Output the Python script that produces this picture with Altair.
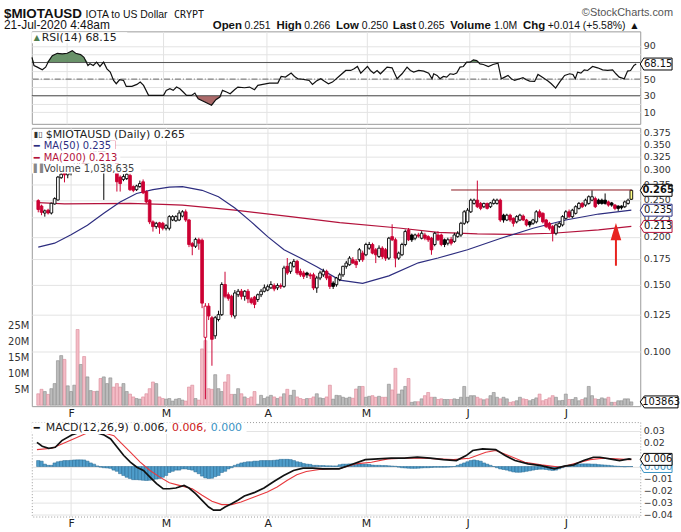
import altair as alt
import pandas as pd
import numpy as np

# ---------------- data ----------------
base_ms = 1579651200000          # 22-Jan-2020 00:00 UTC (first bar)
day_ms = 86400000
month_start_days = [10, 39, 70, 100, 131, 161]   # Feb1 .. Jul1

open_ = [.249,.241,.231,.235,.231,.244,.250,.286,.296,.291,
         .297,.300,.309,.305,.315,.311,.322,.331,.326,.342,
         .335,.345,.358,.366,.327,.287,.283,.2845,.290,.271,
         .266,.271,.279,.263,.2497,.219,.2128,.2177,.2171,.2107,
         .2107,.2215,.2205,.2215,.2268,.2327,.2215,.192,.189,.1965,
         .196,.109,.1316,.1227,.110,.1214,.125,.150,.141,.1397,
         .124,.141,.144,.1397,.144,.1375,.139,.137,.141,.144,
         .145,.147,.149,.147,.149,.1483,.1674,.1624,.1674,.1725,
         .1624,.1608,.1608,.159,.159,.1469,.156,.159,.1624,.1576,
         .1513,.1498,.1545,.159,.1674,.169,.1742,.1725,.1742,.1813,
         .1795,.1868,.191,.185,.1777,.1868,.185,.1759,.2003,.1965,
         .1759,.1795,.191,.2085,.2023,.1984,.2023,.1984,.2023,.2003,
         .1984,.191,.2023,.2023,.1965,.1925,.197,.1946,.2003,.2023,
         .2171,.219,.2327,.2448,.2497,.2448,.240,.2448,.240,.2448,
         .2448,.2497,.228,.2215,.228,.2237,.219,.2215,.2268,.2215,
         .219,.2171,.219,.2327,.2306,.2215,.2171,.2128,.2044,.2128,
         .215,.2237,.2327,.226,.2306,.2376,.2448,.2424,.2448,.2497,
         .252,.2497,.2497,.2497,.247,.2455,.2424,.2409,.2409,.240,
         .2448,.251]
high = [.251,.243,.236,.237,.246,.254,.289,.295,.300,.300,
        .305,.312,.315,.318,.322,.325,.335,.340,.345,.350,
        .352,.362,.372,.368,.330,.290,.292,.294,.293,.273,
        .274,.281,.283,.265,.251,.221,.219,.219,.219,.216,
        .228,.228,.228,.235,.235,.236,.223,.194,.199,.199,
        .198,.134,.134,.124,.124,.128,.152,.162,.143,.141,
        .145,.146,.146,.145,.146,.139,.140,.142,.146,.150,
        .150,.153,.151,.151,.151,.168,.176,.172,.175,.174,
        .165,.163,.162,.161,.161,.158,.163,.165,.164,.159,
        .153,.157,.161,.168,.173,.178,.177,.175,.187,.184,
        .193,.194,.193,.187,.190,.189,.187,.200,.2158,.199,
        .183,.193,.209,.211,.204,.204,.205,.207,.205,.202,
        .200,.206,.207,.204,.198,.199,.200,.205,.207,.219,
        .235,.238,.252,.252,.281,.247,.246,.246,.247,.252,
        .252,.252,.230,.230,.230,.225,.228,.230,.229,.223,
        .220,.223,.235,.236,.232,.223,.219,.215,.217,.219,
        .228,.235,.236,.237,.242,.247,.247,.252,.257,.265,
        .255,.252,.252,.260,.249,.247,.244,.242,.242,.249,
        .252,.266]
low = [.232,.228,.226,.229,.229,.243,.249,.284,.278,.285,
       .290,.296,.300,.302,.306,.308,.318,.322,.324,.330,
       .250,.340,.352,.337,.263,.263,.280,.282,.264,.262,
       .264,.269,.259,.245,.216,.2065,.210,.2037,.208,.208,
       .208,.220,.219,.220,.225,.219,.188,.179,.187,.185,
       .130,.075,.121,.0918,.108,.120,.124,.138,.136,.123,
       .122,.139,.137,.136,.134,.133,.130,.135,.139,.143,
       .144,.146,.144,.145,.146,.147,.159,.160,.166,.159,
       .157,.155,.156,.155,.145,.1426,.154,.157,.154,.146,
       .146,.148,.153,.157,.165,.168,.170,.1657,.172,.172,
       .178,.185,.180,.1707,.176,.175,.173,.174,.195,.1664,
       .174,.178,.189,.195,.194,.196,.199,.197,.196,.194,
       .1795,.189,.195,.189,.188,.190,.190,.193,.199,.200,
       .215,.217,.231,.243,.238,.235,.238,.236,.238,.243,
       .243,.219,.218,.220,.219,.2128,.217,.220,.220,.213,
       .212,.215,.217,.224,.217,.211,.208,.1946,.202,.211,
       .213,.222,.224,.224,.229,.236,.238,.240,.243,.248,
       .238,.243,.243,.243,.240,.240,.235,.234,.236,.238,
       .243,.250]
close = [.236,.232,.234,.231,.245,.252,.287,.292,.291,.297,
         .300,.309,.305,.315,.311,.322,.331,.326,.342,.335,
         .345,.358,.366,.340,.279,.276,.288,.292,.266,.265,
         .272,.276,.261,.247,.219,.2128,.2171,.212,.2107,.214,
         .226,.226,.226,.231,.2327,.2215,.191,.189,.197,.1925,
         .134,.1316,.124,.1077,.1227,.125,.150,.1397,.138,.125,
         .1425,.144,.1397,.144,.1375,.1345,.133,.141,.144,.147,
         .148,.150,.146,.149,.148,.1657,.1608,.1707,.1725,.1608,
         .159,.1576,.159,.158,.1469,.156,.1608,.1624,.156,.1483,
         .1483,.156,.159,.1674,.1707,.1759,.1707,.169,.185,.1742,
         .191,.191,.1813,.1795,.1868,.1777,.1759,.1984,.1965,.1759,
         .1813,.191,.2065,.1965,.1965,.2023,.201,.2044,.1984,.1965,
         .185,.2044,.1965,.191,.191,.1965,.1925,.2023,.2044,.2171,
         .2327,.235,.2497,.2497,.240,.2376,.2448,.2376,.2455,.2497,
         .2497,.2215,.2215,.228,.2215,.2171,.226,.228,.2215,.215,
         .215,.2215,.2327,.226,.219,.2128,.2107,.2044,.215,.2171,
         .226,.2327,.226,.235,.240,.2448,.240,.2497,.2549,.2549,
         .240,.2448,.2448,.2448,.2424,.2424,.2376,.2376,.2385,.247,
         .2497,.265]
volume_m = [3.6,5.0,4.3,3.4,5.2,6.8,14.0,15.6,14.4,6.1,
            4.3,6.3,23.8,12.8,15.3,8.9,4.6,4.3,4.4,8.4,
            8.9,6.8,8.6,5.7,6.8,5.7,6.8,4.3,3.5,2.6,
            2.1,1.9,2.6,3.6,5.2,7.3,6.8,2.6,2.1,1.9,
            2.1,1.3,1.9,2.1,1.6,1.3,5.7,6.3,2.1,1.6,
            17.7,20.3,5.2,5.0,9.6,5.2,4.3,7.3,9.6,3.4,
            3.4,5.2,3.6,2.6,2.1,2.6,4.3,0.3,3.1,2.1,
            2.6,3.1,2.6,2.1,2.6,3.6,5.0,3.1,4.7,2.6,
            2.1,1.8,2.1,2.1,2.6,3.6,2.3,2.1,2.6,6.3,
            1.9,3.1,3.0,2.5,2.2,2.5,2.2,5.1,5.9,5.9,
            2.5,2.8,3.0,2.5,2.8,2.5,2.5,6.6,4.8,11.6,
            3.5,4.8,5.9,8.4,0.9,1.1,1.1,2.0,3.0,4.0,
            2.5,2.5,1.8,2.0,1.8,1.8,1.8,2.0,1.8,2.5,
            5.9,2.5,3.0,3.0,2.5,2.0,1.7,2.0,3.0,4.0,
            2.5,2.0,2.5,2.0,0.9,1.1,1.4,2.5,2.0,1.8,
            1.4,1.8,2.3,3.5,1.4,1.8,2.3,3.0,2.5,1.4,
            1.5,3.5,1.8,1.8,2.4,1.4,1.8,2.3,5.9,3.0,
            2.0,1.8,2.3,2.0,2.5,0.9,0.9,1.4,1.4,2.0,
            2.0,1.04]

ma50_day = [0,5,10,15,20,25,30,35,40,44,50,55,60,65,70,75,80,85,92,99,107,116,122,131,141,151,161,171,181]
ma50_val = [.188,.1925,.2025,.2146,.2306,.247,.260,.266,.270,.271,.265,.255,.238,.219,.2003,.185,.176,.167,
            .154,.151,.158,.171,.176,.185,.198,.2107,.2215,.2296,.235]
ma200_day = [0,8,28,38,44,60,77,92,110,122,134,145,157,171,181]
ma200_val = [.246,.244,.2448,.2435,.2424,.235,.226,.218,.211,.2056,.2036,.203,.2044,.2086,.213]

rsi_day = [-0.4,0.2,1.2,2.7,3.7,4.7,5.7,7.2,8.7,10.2,
           11.7,12.7,14.2,15.2,16.4,17.0,18.0,19.0,20.0,21.1,
           22.1,23.1,24.1,24.9,25.9,27.1,27.9,29.6,31.1,32.1,
           33.1,34.6,37.1,39.1,39.9,41.0,42.0,43.0,44.0,45.0,
           46.0,47.5,48.5,49.5,51.5,53.5,54.8,56.0,56.8,58.0,
           59.1,60.4,61.4,63.4,64.9,66.4,67.4,68.9,70.9,73.4,
           74.4,75.7,77.4,78.4,79.4,81.1,82.8,83.8,85.0,86.3,
           87.3,88.6,89.8,91.3,93.8,95.3,96.3,97.3,98.3,99.3,
           100.3,101.2,102.2,103.2,104.2,105.2,106.2,107.7,109.2,110.7,
           112.2,113.2,114.2,115.7,117.2,118.7,119.7,120.2,121.2,122.1,
           123.1,124.1,125.1,126.1,127.1,128.1,129.1,130.1,131.1,132.1,
           133.1,134.1,135.1,136.6,138.0,139.5,140.5,141.5,142.5,143.5,
           144.5,146.0,147.0,148.0,149.0,150.5,151.5,152.5,153.5,154.5,
           155.5,156.8,158.0,159.5,161.0,162.0,162.7,163.4,164.4,165.4,
           166.4,167.9,169.4,170.9,172.4,173.9,174.9,175.9,177.4,178.4,
           179.3,180.3,181.0]
rsi_val = [76.3,66.4,64.4,61.2,64.4,72.3,78.3,81.1,80.3,81.1,
           84.3,81.1,79.5,76.3,66.4,68.4,66.4,70.4,65.2,70.4,
           62.4,58.4,48.4,44.4,49.2,48.4,41.2,41.2,43.6,46.4,
           42.4,30.4,30.4,30.4,36.4,38.4,36.4,40.4,38.4,34.4,
           30.4,30.4,33.2,26.4,22.4,18.5,25.2,28.4,36.4,34.4,
           32.4,37.2,40.4,39.6,40.4,37.2,42.4,43.6,45.2,45.2,
           53.2,52.4,57.2,53.2,50.4,49.6,48.4,43.6,47.6,50.4,
           47.6,44.4,46.4,51.6,60.4,60.4,62.4,65.2,57.2,61.2,
           65.2,60.4,57.2,60.4,56.4,60.4,64.4,63.6,50.4,56.4,
           64.4,60.4,58.4,60.4,59.6,57.2,50.4,56.4,54.4,50.4,
           53.2,52.4,56.4,55.6,57.2,64.4,65.2,70.4,70.4,73.2,
           72.3,68.4,67.6,65.2,67.6,69.2,50.4,52.4,54.4,50.4,
           48.4,50.4,51.6,49.2,47.6,47.2,55.6,53.2,50.4,47.6,
           44.4,39.2,46.4,54.4,56.4,55.6,50.4,58.4,57.2,61.2,
           60.4,65.2,63.6,61.2,60.4,61.2,56.4,52.4,50.4,59.6,
           60.4,66.4,68.15]

macd_day = [-0.4,1.2,3.2,5.2,7.2,10.2,13.2,16.2,20.1,22.1,
            24.1,26.1,28.1,30.1,32.1,34.1,36.1,38.1,40.0,42.0,
            44.5,46.0,48.0,50.0,52.0,53.5,55.5,57.0,59.0,60.9,
            62.9,65.9,68.9,71.9,74.9,77.9,80.8,83.8,86.8,89.8,
            91.8,94.8,99.8,103.7,107.7,111.7,115.7,119.7,123.6,127.6,
            130.6,132.6,135.6,139.6,142.5,145.5,149.5,153.5,157.5,160.5,
            163.4,166.4,169.4,171.4,174.4,177.4,180.3,181.0]
macd_val = [.0203,.0170,.0153,.0161,.0217,.0264,.0292,.0297,.0264,.0231,
            .0161,.0092,.0037,-.0006,-.0033,-.0089,-.0144,-.0186,-.0186,-.0180,
            -.0158,-.0180,-.0228,-.0283,-.0339,-.0366,-.0366,-.0339,-.0311,-.0283,
            -.0247,-.0219,-.0180,-.0125,-.0075,-.0033,-.0014,-.0014,-.0019,-.0019,
            -.0019,.0008,.0058,.0064,.0070,.0070,.0078,.0070,.0058,.0050,
            .0092,.0134,.0148,.0142,.0092,.0050,.0022,.0008,-.0019,.0003,
            .0014,.0050,.0078,.0078,.0064,.0050,.0064,.0060]
sig_day = [-0.4,4.2,7.2,10.2,14.2,16.2,20.1,23.1,25.1,28.1,
           31.1,34.1,37.1,40.0,43.0,47.0,50.0,53.0,56.0,59.0,
           61.9,65.9,69.9,72.9,75.9,78.9,81.8,85.8,89.8,91.8,
           96.8,101.7,106.7,111.7,116.7,121.7,126.7,131.6,136.6,139.6,
           143.5,148.5,153.5,159.5,163.4,168.4,172.4,176.4,180.3,181.0]
sig_val = [.0142,.0153,.0189,.0225,.0273,.0292,.0281,.0259,.0203,.0120,
           .0037,-.0033,-.0089,-.0136,-.0158,-.0186,-.0241,-.0291,-.0319,-.0319,
           -.0297,-.0255,-.0214,-.0172,-.0117,-.0069,-.0042,-.0025,-.0019,-.0019,
           .0022,.0036,.0064,.0070,.0072,.0064,.0058,.0070,.0120,.0134,
           .0092,.0036,.0014,-.0006,.0022,.0058,.0070,.0064,.0058,.0060]
hist_val = [.005,.0045,
            .002,.001,.001,
            .003,.004,
            .0045,.005,.005,.0052,.0055,.0056,.0056,.0055,
            .0045,.003,.002,
            .0005,-.0005,-.001,-.0012,-.0015,
            -.003,-.004,
            -.006,-.0075,-.009,
            -.010,-.011,-.011,-.0112,
            -.0115,-.0117,-.0115,-.011,
            -.0105,-.010,-.009,-.0075,
            -.005,-.004,-.003,-.003,
            -.002,-.002,
            -.0025,-.003,
            -.0045,-.006,
            -.008,-.0095,-.010,-.0098,
            -.0085,-.0075,
            -.005,-.004,
            -.002,-.001,
            .001,.002,
            .003,.0035,.004,.004,
            .0045,.0045,.005,.005,.005,.005,.0052,
            .0055,.006,.006,.006,.0058,
            .005,.004,.0035,
            .0025,.002,.0018,
            .001,.001,.0008,.0008,.0006,.0006,.0005,.0005,
            .0015,.002,.002,.0022,.0022,.0022,.0022,.002,.002,.0018,
            .0012,.001,.001,.0008,.0008,.0006,.0004,.0002,
            -.0005,-.001,-.0012,-.0014,-.0015,-.0015,-.0014,-.0012,-.001,-.001,
            -.0008,-.0006,-.0006,-.0006,-.0006,-.0005,-.0003,0.0,
            .001,.002,.003,.004,
            .005,.0055,.005,.0045,
            .003,.002,.001,0.0,
            -.001,-.002,-.0025,-.003,
            -.0038,-.0045,-.0048,-.0048,-.0045,-.004,
            -.0035,-.003,-.0025,-.0022,-.0022,-.0025,-.003,
            -.0033,-.003,-.002,
            -.001,0.0,.0005,.001,.0015,.002,
            .0022,.0022,.0022,.002,.002,
            .0016,.0014,.0012,.001,
            .0007,.0004,.0002,0.0,-.0002,0.0,0.0]

resist_days = [126, 181]
resist_level = 0.2655
arrow_day = 176.3
arrow_tail, arrow_head = 0.168, 0.2065

price_ticks = [0.100, 0.125, 0.150, 0.175, 0.200, 0.225, 0.250, 0.275, 0.300, 0.325, 0.350, 0.375]
rsi_ticks = [10, 20, 30, 40, 50, 60, 70, 80, 90]
macd_ticks = [-0.04, -0.03, -0.02, -0.01, 0.0, 0.01, 0.02, 0.03]
vol_ticks = [5, 10, 15, 20, 25]

n = len(close)
assert len(open_) == n and len(high) == n and len(low) == n and len(volume_m) == n and len(hist_val) == n
assert len(rsi_day) == len(rsi_val) and len(macd_day) == len(macd_val) and len(sig_day) == len(sig_val)
assert len(ma50_day) == len(ma50_val) and len(ma200_day) == len(ma200_val)

def to_ms(days):
    return [base_ms + d * day_ms for d in days]

# ---------------- frames ----------------
df = pd.DataFrame({"t": to_ms(range(n)), "o": open_, "h": high, "l": low, "c": close,
                   "v": volume_m, "hist": hist_val})
prev = df["c"].shift(1).fillna(df["o"])
up = df["c"] >= prev
df["col"] = np.where(up, "#000000", "#cc0033")
df["fill"] = np.where(df["c"] > df["o"], "#ffffff", df["col"])
df.loc[n - 1, "fill"] = "#ffff88"
df["vfill"] = np.where(up, "#bcbcbc", "#f4bcc6")
df["vstroke"] = np.where(up, "#8a8a8a", "#d98898")

ma50_df = pd.DataFrame({"t": to_ms(ma50_day), "p": ma50_val})
ma200_df = pd.DataFrame({"t": to_ms(ma200_day), "p": ma200_val})
rsi_df = pd.DataFrame({"t": to_ms(rsi_day), "r": rsi_val})
rsi_df["r_hi"] = rsi_df["r"].clip(lower=70)
rsi_df["r_lo"] = rsi_df["r"].clip(upper=30)
macd_df = pd.DataFrame({"t": to_ms(macd_day), "m": macd_val})
sig_df = pd.DataFrame({"t": to_ms(sig_day), "m": sig_val})
res_df = pd.DataFrame({"t0": to_ms([resist_days[0]]), "t1": to_ms([resist_days[1]]), "p": [resist_level]})
arr_df = pd.DataFrame({"t": to_ms([arrow_day]), "p0": [arrow_tail], "p1": [0.199], "tip": [arrow_head]})
one = pd.DataFrame({"k": [0]})

# ---------------- layout constants ----------------
W = 612
H_RSI, H_PRICE, H_MACD = 93, 280, 95
FONT = "DejaVu Sans"
HFONT = "Liberation Sans"
GRID = "#e3e3e3"

xs = alt.Scale(type="utc", domain=[base_ms - 0.45 * day_ms, base_ms + 182.2 * day_ms])
month_ms = to_ms(month_start_days)

def x_enc(labels, field="t"):
    if labels:
        ax = alt.Axis(values=month_ms, labelExpr="substring(utcFormat(datum.value, '%b'), 0, 1)",
                      title=None, grid=True, gridColor=GRID, ticks=False, domain=False,
                      labelFont=FONT, labelFontSize=11, labelColor="#222", labelPadding=1,
                      labelFlush=False, labelOverlap=False, minExtent=12, maxExtent=12)
    else:
        ax = alt.Axis(values=month_ms, labels=False, title=None, grid=True, gridColor=GRID,
                      ticks=False, domain=False, minExtent=0, maxExtent=0)
    return alt.X(f"{field}:T", scale=xs, axis=ax)

def yaxis(values, fmt=None, expr=None):
    kw = dict(values=values, orient="right", title=None, grid=True, gridColor=GRID, ticks=False,
              domain=False, labelFont=FONT, labelFontSize=9.5, labelColor="#333", labelPadding=3,
              labelOverlap=False, minExtent=38, maxExtent=38)
    if fmt:
        kw["format"] = fmt
    if expr:
        kw["labelExpr"] = expr
    return alt.Axis(**kw)

ps = alt.Scale(type="log", domain=[0.0719, 0.3866], nice=False, zero=False)
pax = yaxis(price_ticks, fmt=".3f")
rs = alt.Scale(domain=[-3.9, 107.5], nice=False, zero=False)
rax = yaxis(rsi_ticks, expr="(datum.value == 10 || datum.value == 30 || datum.value == 50 || datum.value == 90) ? datum.label : ''")
mscale = alt.Scale(domain=[-0.0419, 0.03725], nice=False, zero=False)
max_ = yaxis(macd_ticks, fmt=".2f", expr="(abs(datum.value) < 0.005 || abs(datum.value - 0.01) < 0.005) ? '' : datum.label")
vscale = alt.Scale(domain=[-0.3, 87.2], nice=False, zero=False)
vax = alt.Axis(values=vol_ticks, orient="left", labelExpr="datum.value + 'M'", title=None, grid=False,
               ticks=False, domain=False, labelFont=FONT, labelFontSize=10, labelColor="#333",
               labelPadding=3)

def PY(f):
    return alt.Y(f"{f}:Q", scale=ps, axis=pax)

def txt(s, x, y, size=11, color="#222", bold=False, font=FONT, align="left", baseline="middle"):
    return alt.Chart(one).mark_text(text=s, align=align, baseline=baseline, font=font, fontSize=size,
                                    fontWeight="bold" if bold else "normal", color=color).encode(
        x=alt.value(x), y=alt.value(y))

def box(x, x2, y, y2):
    return alt.Chart(one).mark_rect(fill="white", stroke=None).encode(
        x=alt.value(x), x2=alt.value(x2), y=alt.value(y), y2=alt.value(y2))

def tag_shape(half_w, half_h):
    hh = half_h / half_w
    return f"M -1 0 L -0.78 {-hh:.3f} L 1 {-hh:.3f} L 1 {hh:.3f} L -0.78 {hh:.3f} Z"

def tag(value, label, yenc_fn, stroke="#000", tcolor="#111", bold=False, wid=32):
    d = pd.DataFrame({"v": [value]})
    pt = alt.Chart(d).mark_point(shape=tag_shape(wid / 2, 6), size=wid * wid, fill="white", fillOpacity=1,
                                 stroke=stroke, strokeWidth=1, opacity=1).encode(
        x=alt.value(W + wid / 2), y=yenc_fn("v"))
    tx = alt.Chart(d).mark_text(text=label, align="center", baseline="middle", font=FONT, fontSize=10,
                                fontWeight="bold" if bold else "normal", color=tcolor).encode(
        x=alt.value(W + wid / 2 + 2), y=yenc_fn("v"))
    return [pt, tx]

# ---------------- RSI panel ----------------
def RY(f):
    return alt.Y(f"{f}:Q", scale=rs, axis=rax)

lvl = pd.DataFrame({"r": [70, 30]})
rsi_layers = [
    alt.Chart(rsi_df).mark_area(color="#4f7f4f", opacity=0.85).encode(x=x_enc(False), y=RY("r_hi"), y2=alt.datum(70)),
    alt.Chart(rsi_df).mark_area(color="#9c4f4f", opacity=0.85).encode(x=x_enc(False), y=RY("r_lo"), y2=alt.datum(30)),
    alt.Chart(lvl).mark_rule(color="#555", strokeWidth=1).encode(y=RY("r")),
    alt.Chart(pd.DataFrame({"r": [50]})).mark_rule(color="#666", strokeWidth=1, strokeDash=[6, 2, 1, 2]).encode(y=RY("r")),
    alt.Chart(rsi_df).mark_line(color="#111", strokeWidth=1.2).encode(x=x_enc(False), y=RY("r")),
    box(0, 96, 1, 12),
    txt("RSI(14) 68.15", 10, 6.5),
    txt("▲", 2, 6.5, size=8, color="#4f7f4f"),
]
rsi_layers += tag(68.15, "68.15", RY)
# header (placed above the RSI panel)
rsi_layers += [
    alt.Chart(one).mark_rule(strokeOpacity=0, strokeWidth=0).encode(
        x=alt.value(-31), x2=alt.value(-31), y=alt.value(-29), y2=alt.value(-29)),
    txt("$MIOTAUSD", -28, -13, size=13.5, bold=True, font=HFONT, baseline="alphabetic", color="#111"),
    txt("IOTA to US Dollar", 54, -13, size=10.5, font=HFONT, baseline="alphabetic", color="#111"),
    txt("CRYPT", 143, -13, size=10, font="DejaVu Sans Mono", baseline="alphabetic", color="#111"),
    txt("©StockCharts.com", 645, -15, size=11, font=HFONT, align="right", baseline="alphabetic", color="#555"),
    txt("21-Jul-2020 4:48am", -28, -2, size=12, font=HFONT, baseline="alphabetic", color="#111"),
]
hdr = [("Open", 213, True), ("0.251", 245, False), ("High", 277, True), ("0.266", 305, False),
       ("Low", 337, True), ("0.250", 363, False), ("Last", 394, True), ("0.265", 420, False),
       ("Volume", 452, True), ("1.0M", 496, False), ("Chg", 525, True), ("+0.014 (+5.58%)", 550, False),
       ("▲", 632, False)]
for s, x, b in hdr:
    rsi_layers.append(txt(s, x - 31, -2, size=11.5 if b else 10.5, bold=b, font=HFONT,
                          baseline="alphabetic", color="#111"))

rsi_chart = alt.layer(*rsi_layers).properties(width=W, height=H_RSI)

# ---------------- price panel ----------------
vol_layers = [
    alt.Chart(df).mark_bar(size=3, strokeWidth=0.6).encode(
        x=x_enc(True), y=alt.Y("v:Q", scale=vscale, axis=vax), y2=alt.datum(0),
        fill=alt.Fill("vfill:N", scale=None), stroke=alt.Stroke("vstroke:N", scale=None)),
]
vol_layers += tag(1.038635, "103863", lambda f: alt.Y(f"{f}:Q", scale=vscale, axis=vax), wid=38)
vol_part = alt.layer(*vol_layers)

price_layers = [
    alt.Chart(ma200_df).mark_line(color="#b3123b", strokeWidth=1.2).encode(x=x_enc(True), y=PY("p")),
    alt.Chart(ma50_df).mark_line(color="#2d2d7f", strokeWidth=1.2).encode(x=x_enc(True), y=PY("p")),
    alt.Chart(df).mark_rule(strokeWidth=1).encode(x=x_enc(True), y=PY("l"), y2="h:Q",
                                                  color=alt.Color("col:N", scale=None)),
    alt.Chart(df).mark_bar(size=2.7, strokeWidth=0.9).encode(
        x=x_enc(True), y=PY("o"), y2="c:Q",
        fill=alt.Fill("fill:N", scale=None), stroke=alt.Stroke("col:N", scale=None)),
    alt.Chart(res_df).mark_rule(color="#8b1a22", strokeWidth=1).encode(
        x=x_enc(True, "t0"), x2="t1:T", y=PY("p")),
    alt.Chart(arr_df).mark_rule(color="#e8231f", strokeWidth=2).encode(x=x_enc(True), y=PY("p0"), y2="p1:Q"),
    alt.Chart(arr_df).mark_point(shape="M 0 -1 L 0.62 1 L -0.62 1 Z", size=300, filled=True,
                                 color="#e8231f", opacity=1).encode(x=x_enc(True), y=PY("tip")),
    # legend boxes & text
    box(0, 159, 2, 13), box(0, 84, 13, 24), box(0, 89, 24, 36), box(0, 110, 36, 46),
    txt("$MIOTAUSD (Daily) 0.265", 14, 7.5, color="#222"),
    txt("▮▯", 2, 7.5, size=8, color="#333"),
    txt("━", 2, 18.5, size=10, color="#2d2d7f"),
    txt("MA(50) 0.235", 12, 18.5, size=10, color="#2d2d7f"),
    txt("━", 2, 30, size=10, color="#b3123b"),
    txt("MA(200) 0.213", 12, 30, size=10, color="#b3123b"),
    txt("▌▌", 2, 41, size=8, color="#888"),
    txt("Volume 1,038,635", 12, 41, size=10, color="#444"),
]
price_layers += tag(0.213, "0.213", PY, stroke="#b3123b")
price_layers += tag(0.235, "0.235", PY, stroke="#2d2d7f")
price_layers += tag(0.265, "0.265", PY, stroke="#000", bold=True)
price_part = alt.layer(*price_layers)

price_chart = alt.layer(vol_part, price_part).resolve_scale(y="independent").resolve_axis(y="independent").properties(
    width=W, height=H_PRICE)

# ---------------- MACD panel ----------------
def MY(f):
    return alt.Y(f"{f}:Q", scale=mscale, axis=max_)

macd_layers = [
    alt.Chart(df).mark_bar(size=3.35, fill="#4f9dca", stroke="#23668f", strokeWidth=0.5).encode(
        x=x_enc(True), y=MY("hist"), y2=alt.datum(0)),
    alt.Chart(sig_df).mark_line(color="#e8383d", strokeWidth=1.1).encode(x=x_enc(True), y=MY("m")),
    alt.Chart(macd_df).mark_line(color="#111", strokeWidth=1.7).encode(x=x_enc(True), y=MY("m")),
    box(0, 216, 0.5, 12),
    txt("━", 2, 6, size=10, color="#111"),
    txt("MACD(12,26,9)", 14, 6, color="#222"),
    txt("0.006,", 102, 6, color="#222"),
    txt("0.006,", 141, 6, color="#cc2020"),
    txt("0.000", 180, 6, color="#3a93c4"),
]
macd_layers += tag(0.0, "0.000", MY, stroke="#3a93c4", tcolor="#3a93c4")
macd_layers += tag(0.006, "0.006", MY)
macd_chart = alt.layer(*macd_layers).properties(
    width=W, height=H_MACD, view=alt.ViewBackground(stroke="#9a9a9a", strokeDash=[1, 2]))

chart = alt.vconcat(rsi_chart, price_chart, macd_chart, spacing=2).properties(
    padding={"left": 0, "top": 0, "right": 0, "bottom": 0}
).configure(autosize=alt.AutoSizeParams(type="pad"), background="white").configure_view(
    stroke="#9a9a9a", strokeWidth=1)

chart.save("out.html", embed_options={"renderer": "svg", "actions": False})
